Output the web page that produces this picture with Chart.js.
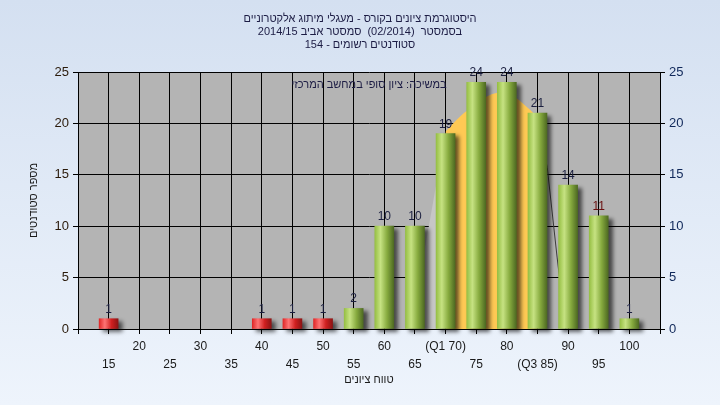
<!DOCTYPE html>
<html lang="he">
<head>
<meta charset="utf-8">
<script src="https://cdn.jsdelivr.net/npm/chart.js@4/dist/chart.umd.min.js"></script>
<style>
  html, body { margin: 0; padding: 0; }
  body { width: 720px; height: 405px; background: linear-gradient(#d4e0f1, #eef4fc); overflow: hidden; }
  #chart { display: block; }
</style>
</head>
<body>
<canvas id="chart" width="720" height="405"></canvas>
<script>
const TITLE_LINES = [
  'היסטוגרמת ציונים בקורס - מעגלי מיתוג אלקטרוניים',
  'בסמסטר  (02/2014)  סמסטר אביב 2014/15',
  'סטודנטים רשומים - 154',
];
const NOTE_TEXT = 'במשיכה: ציון סופי במחשב המרכזי';
const X_TITLE   = 'טווח ציונים';
const Y_TITLE   = 'מספר סטודנטים';

const GRADES      = [15, 20, 25, 30, 35, 40, 45, 50, 55, 60, 65, 70, 75, 80, 85, 90, 95, 100];
const GRADE_TICKS = ['15', '20', '25', '30', '35', '40', '45', '50', '55', '60', '65', '(Q1 70)', '75', '80', '(Q3 85)', '90', '95', '100'];
const STUDENTS    = [1, 0, 0, 0, 0, 1, 1, 1, 2, 10, 10, 19, 24, 24, 21, 14, 11, 1];
const PASS_GRADE  = 55;

// curve behind the bars: below Q1, Q1..Q3 (orange), above Q3
const CURVE_LOW_X  = [64.3, 70];
const CURVE_LOW_Y  = [0, 19.2];
const CURVE_MID_X  = [70, 73, 77, 80, 84, 85];
const CURVE_MID_Y  = [19.2, 21, 22.7, 23, 21.2, 20.4];
const CURVE_HIGH_X = [85, 86.6, 88.2, 89.6];
const CURVE_HIGH_Y = [20.4, 15.7, 7, 0];

const Y_TICKS = [0, 5, 10, 15, 20, 25];

const BAR_W = 19;
const FONT  = '"Liberation Sans", "DejaVu Sans", sans-serif';
Chart.defaults.font.family = FONT;
Chart.defaults.font.size   = 12;

const pts = (xs, ys) => xs.map((x, i) => ({ x, y: ys[i] }));

function barGradient(c) {
  const { chart } = c;
  if (c.dataIndex == null || !chart.chartArea) return '#9cc23c';
  const cx = chart.scales.x.getPixelForValue(GRADES[c.dataIndex]);
  const g  = chart.ctx.createLinearGradient(cx - BAR_W / 2, 0, cx + BAR_W / 2, 0);
  if (GRADES[c.dataIndex] < PASS_GRADE) {
    g.addColorStop(0,    '#e02828');
    g.addColorStop(0.3,  '#ff7474');
    g.addColorStop(0.65, '#d02020');
    g.addColorStop(1,    '#8c1414');
  } else {
    g.addColorStop(0,    '#96bf44');
    g.addColorStop(0.3,  '#c6e282');
    g.addColorStop(0.65, '#86aa3e');
    g.addColorStop(1,    '#4e6a22');
  }
  return g;
}

const backdrop = {
  id: 'backdrop',
  beforeDraw(chart) {
    const { ctx, chartArea: a } = chart;
    ctx.save();
    ctx.fillStyle = '#b4b4b4';
    ctx.fillRect(a.left, a.top, a.right - a.left, a.bottom - a.top);
    ctx.restore();
  },
};

const barShadow = {
  id: 'barShadow',
  beforeDatasetDraw(chart, args) {
    if (args.meta.type !== 'bar') return;
    const ctx = chart.ctx;
    ctx.save();
    ctx.shadowColor   = 'rgba(0,0,0,0.6)';
    ctx.shadowBlur    = 4;
    ctx.shadowOffsetX = 4;
    ctx.shadowOffsetY = 3;
  },
  afterDatasetDraw(chart, args) {
    if (args.meta.type !== 'bar') return;
    chart.ctx.restore();
  },
};

const texts = {
  id: 'texts',
  afterDraw(chart) {
    const ctx = chart.ctx;
    ctx.save();
    ctx.fillStyle = '#1c1c44';
    ctx.textAlign = 'center';
    ctx.textBaseline = 'middle';
    ctx.font = '11px ' + FONT;
    TITLE_LINES.forEach((t, i) => ctx.fillText(t, 360, 18.5 + i * 13));
    ctx.fillText(NOTE_TEXT, 369, 85);

    // value labels above the bars
    ctx.font = '12px ' + FONT;
    ctx.textBaseline = 'alphabetic';
    const meta = chart.getDatasetMeta(0);
    meta.data.forEach((bar, i) => {
      const v = STUDENTS[i];
      if (!v) return;
      ctx.fillStyle = v === 11 ? '#6a1010' : '#1c2040';
      ctx.fillText(String(v), bar.x, bar.y - 6);
    });
    ctx.restore();
  },
};

new Chart(document.getElementById('chart'), {
  data: {
    datasets: [
      {
        type: 'bar',
        data: GRADES.map((g, i) => ({ x: g, y: STUDENTS[i] || null })),
        backgroundColor: barGradient,
        barThickness: BAR_W,
        borderWidth: 0,
        order: 0,
        clip: 8,
      },
      {
        type: 'line',
        data: pts(CURVE_LOW_X, CURVE_LOW_Y),
        borderWidth: 0,
        borderColor: 'rgba(0,0,0,0)',
        backgroundColor: '#c6c6c6',
        fill: 'origin',
        pointRadius: 0,
        order: 1,
      },
      {
        type: 'line',
        data: pts(CURVE_MID_X, CURVE_MID_Y),
        borderWidth: 0,
        borderColor: 'rgba(0,0,0,0)',
        backgroundColor: '#ffc954',
        fill: 'origin',
        tension: 0.3,
        pointRadius: 0,
        order: 1,
      },
      {
        type: 'line',
        data: pts(CURVE_HIGH_X, CURVE_HIGH_Y),
        borderWidth: 1,
        borderColor: '#3c3c3c',
        fill: false,
        pointRadius: 0,
        order: 1,
      },
    ],
  },
  options: {
    responsive: false,
    animation: false,
    events: [],
    layout: { padding: { top: 72, left: 0, right: 0, bottom: 0 } },
    plugins: { legend: { display: false }, tooltip: { enabled: false } },
    scales: {
      x: {
        type: 'linear',
        min: 10,
        max: 105,
        offset: false,
        afterFit: s => { s.height = 76; },
        afterBuildTicks: s => { s.ticks = [10, ...GRADES, 105].map(v => ({ value: v })); },
        grid: { color: '#000', tickLength: 5, lineWidth: 1, offset: false },
        border: { color: '#000' },
        ticks: {
          autoSkip: false,
          maxRotation: 0,
          color: '#1a1a1a',
          padding: 4,
          font: { size: 12, lineHeight: 1.5 },
          callback: v => {
            const i = GRADES.indexOf(v);
            if (i < 0) return '';
            return i % 2 ? [GRADE_TICKS[i], ''] : ['', GRADE_TICKS[i]];
          },
        },
        title: { display: true, text: X_TITLE, color: '#1a1a1a', font: { size: 11 }, padding: { top: 0, bottom: 18 } },
      },
      y: {
        position: 'left',
        min: 0,
        max: 25,
        afterFit: s => { s.width = 78; },
        afterBuildTicks: s => { s.ticks = Y_TICKS.map(v => ({ value: v })); },
        grid: { color: '#000', tickLength: 5 },
        border: { color: '#000' },
        ticks: { color: '#2a1a0a', padding: 4, font: { size: 13 } },
        title: { display: true, text: Y_TITLE, color: '#1a1a1a', font: { size: 11 }, padding: { top: 27, bottom: 0 } },
      },
      y2: {
        position: 'right',
        min: 0,
        max: 25,
        afterFit: s => { s.width = 60; },
        afterBuildTicks: s => { s.ticks = Y_TICKS.map(v => ({ value: v })); },
        grid: { color: '#000', tickLength: 5, drawOnChartArea: false },
        border: { color: '#000' },
        ticks: { color: '#10285a', padding: 4, font: { size: 13 } },
      },
    },
  },
  plugins: [backdrop, barShadow, texts],
});
</script>
</body>
</html>
